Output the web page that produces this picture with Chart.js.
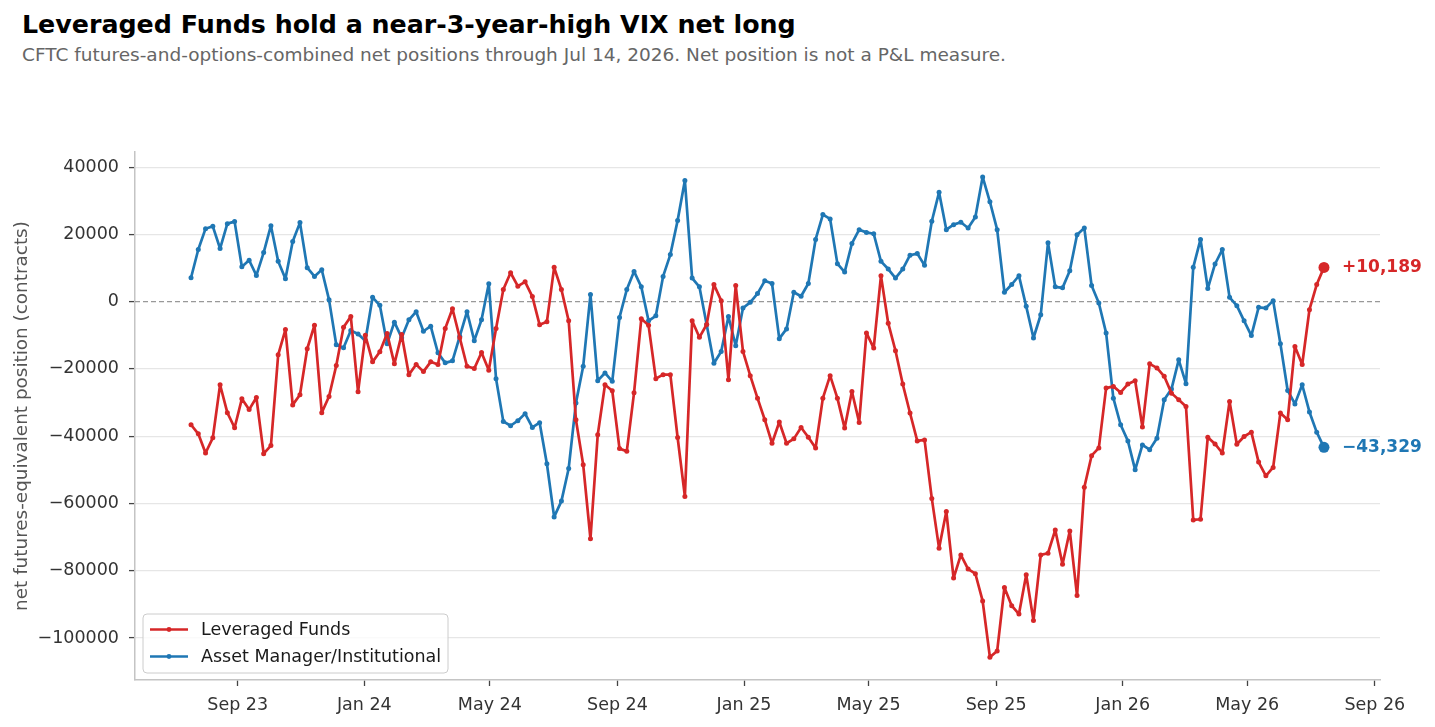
<!DOCTYPE html>
<html>
<head>
<meta charset="utf-8">
<title>VIX net positions</title>
<script src="https://cdn.jsdelivr.net/npm/chart.js@4.4.1/dist/chart.umd.min.js"></script>
<style>
  html, body { margin: 0; padding: 0; background: #fff; }
  body { width: 1435px; height: 727px; position: relative; overflow: hidden; font-family: 'DejaVu Sans', sans-serif; }
  #title { position: absolute; left: 22px; top: 12px; margin: 0; font-size: 25.3px; line-height: 1; font-weight: bold; color: #000; white-space: nowrap; }
  #subtitle { position: absolute; left: 22px; top: 46px; margin: 0; font-size: 18.5px; line-height: 1; color: #666; white-space: nowrap; }
  #wrap { position: absolute; left: 0; top: 0; width: 1435px; height: 727px; }
</style>
</head>
<body>
<h1 id="title">Leveraged Funds hold a near-3-year-high VIX net long</h1>
<p id="subtitle">CFTC futures-and-options-combined net positions through Jul 14, 2026. Net position is not a P&amp;L measure.</p>
<div id="wrap"><canvas id="chart"></canvas></div>
<script>
/* weekly CFTC reports, first one Jul 18 2023, last Jul 14 2026 */
const firstReport = '2023-07-18';

const leveragedFunds = [
  -36600, -39300, -45000, -40500, -24700, -33000, -37500, -28900, -32100, -28500,
  -45200, -42800, -15800, -8300, -30700, -27700, -14000, -7000, -33000, -28200,
  -19000, -7600, -4400, -26800, -10000, -17900, -14900, -9500, -18500, -9800,
  -21700, -18700, -20800, -17900, -18700, -8000, -2100, -10700, -19200, -19900,
  -15100, -20400, -8000, 3600, 8600, 4600, 5900, 1500, -6900, -6000,
  10200, 3600, -5700, -35100, -48500, -70500, -39600, -24700, -26500, -43700,
  -44500, -27100, -5100, -7000, -22900, -21700, -21700, -40400, -57900, -5700,
  -10600, -6800, 5100, 300, -23200, 4800, -14800, -22000, -28700, -35100,
  -42100, -35800, -42100, -40800, -37400, -40300, -43500, -28700, -22000, -28700,
  -37600, -26700, -35900, -9300, -13800, 7700, -6400, -14600, -24500, -33100,
  -41400, -41100, -58500, -73300, -62400, -82200, -75300, -79500, -80900, -89000,
  -105700, -103900, -85000, -90400, -92900, -81200, -94800, -75300, -74800, -67900,
  -78100, -68200, -87400, -55200, -45800, -43500, -25700, -25200, -27000, -24500,
  -23500, -37300, -18500, -19700, -22200, -27200, -29200, -31200, -64900, -64700,
  -40300, -42300, -45000, -29700, -42400, -40100, -38800, -47700, -51800, -49300,
  -33100, -35100, -13300, -18700, -2400, 5100, 10189
];

const assetManagers = [
  7100, 15500, 21700, 22400, 15800, 23200, 23800, 10400, 12300, 7800,
  14600, 22600, 12000, 6800, 17900, 23500, 10100, 7500, 9500, 600,
  -12800, -13700, -8600, -9600, -11600, 1300, -1100, -12500, -6100, -10700,
  -5400, -3000, -8800, -7300, -15200, -18200, -17600, -10300, -3000, -11600,
  -5400, 5300, -22900, -35600, -36900, -35400, -33300, -37400, -36000, -48200,
  -64000, -59300, -49600, -30100, -19200, 2100, -23500, -21200, -23700, -4700,
  3600, 9000, 4400, -5700, -4200, 7500, 14000, 24100, 36000, 7000,
  4400, -6800, -18300, -14800, -4400, -13100, -1900, -200, 2400, 6200,
  5400, -11000, -8100, 2800, 1600, 5400, 18500, 25900, 24600, 11300,
  8800, 17300, 21400, 20600, 20200, 12000, 9700, 7000, 9700, 13800,
  14300, 10800, 23900, 32500, 21400, 22900, 23600, 21900, 25200, 37100,
  29700, 21400, 2800, 5100, 7700, -1400, -10800, -3900, 17500, 4400,
  4100, 9200, 19900, 21900, 4800, -400, -9300, -28700, -36600, -41400,
  -50000, -42600, -44000, -40600, -29200, -26000, -17300, -24400, 10200, 18500,
  3900, 11200, 15500, 1300, -1200, -5700, -10100, -1700, -1900, 300,
  -12500, -26400, -30400, -24700, -32800, -38800, -43329
];

const tickDates = ['2023-09-01', '2024-01-01', '2024-05-01', '2024-09-01', '2025-01-01',
  '2025-05-01', '2025-09-01', '2026-01-01', '2026-05-01', '2026-09-01'];
const tickLabels = ['Sep 23', 'Jan 24', 'May 24', 'Sep 24', 'Jan 25',
  'May 25', 'Sep 25', 'Jan 26', 'May 26', 'Sep 26'];
const yTicks = [40000, 20000, 0, -20000, -40000, -60000, -80000, -100000];

const RED = '#d62728';
const BLUE = '#1f77b4';
const DAY = 86400000;
const t0 = Date.parse(firstReport);
const dayOf = d => (Date.parse(d) - t0) / DAY;
const fmt = v => (v < 0 ? '\u2212' : '') + Math.abs(v);

const toPoints = arr => arr.map((v, i) => ({ x: i * 7, y: v }));

Chart.defaults.font.family = "'DejaVu Sans', sans-serif";
Chart.defaults.font.size = 17.5;
Chart.defaults.color = '#333';

// dashed zero line + end-of-line value labels + matplotlib-style legend box
const extras = {
  id: 'extras',
  beforeDatasetsDraw(chart) {
    const { ctx, chartArea, scales } = chart;
    const y0 = scales.y.getPixelForValue(0);
    ctx.save();
    ctx.strokeStyle = '#999';
    ctx.lineWidth = 1.3;
    ctx.setLineDash([5, 3]);
    ctx.beginPath();
    ctx.moveTo(chartArea.left, y0);
    ctx.lineTo(chartArea.right, y0);
    ctx.stroke();
    ctx.restore();
  },
  afterDatasetsDraw(chart) {
    const { ctx, chartArea } = chart;
    ctx.save();
    ctx.font = "bold 17px 'DejaVu Sans', sans-serif";
    ctx.textBaseline = 'middle';
    ctx.textAlign = 'left';
    chart.data.datasets.forEach((ds, i) => {
      const pts = chart.getDatasetMeta(i).data;
      const last = pts[pts.length - 1];
      const v = ds.data[ds.data.length - 1].y;
      const txt = (v > 0 ? '+' : '\u2212') + Math.abs(v).toLocaleString('en-US');
      ctx.fillStyle = ds.borderColor;
      ctx.fillText(txt, last.x + 18, last.y);
    });

    // legend
    const bx = chartArea.left + 8, bw = 305, bh = 59;
    const by = chartArea.bottom - 7 - bh;
    ctx.beginPath();
    ctx.roundRect(bx, by, bw, bh, 4);
    ctx.fillStyle = 'rgba(255,255,255,0.8)';
    ctx.fill();
    ctx.strokeStyle = '#cccccc';
    ctx.lineWidth = 1;
    ctx.stroke();
    ctx.font = "17.5px 'DejaVu Sans', sans-serif";
    chart.data.datasets.forEach((ds, i) => {
      const ry = by + 15.5 + i * 27;
      ctx.strokeStyle = ds.borderColor;
      ctx.lineWidth = 2.6;
      ctx.beginPath();
      ctx.moveTo(bx + 7, ry);
      ctx.lineTo(bx + 45, ry);
      ctx.stroke();
      ctx.fillStyle = ds.borderColor;
      ctx.beginPath();
      ctx.arc(bx + 26, ry, 2.4, 0, Math.PI * 2);
      ctx.fill();
      ctx.fillStyle = '#1a1a1a';
      ctx.fillText(ds.label, bx + 58, ry + 1);
    });
    ctx.restore();
  }
};

const lastBig = n => ctx => (ctx.dataIndex === n - 1 ? 5.5 : 2.5);

new Chart(document.getElementById('chart'), {
  type: 'line',
  data: {
    datasets: [
      {
        label: 'Leveraged Funds',
        data: toPoints(leveragedFunds),
        borderColor: RED,
        backgroundColor: RED,
        borderWidth: 2.7,
        borderJoinStyle: 'round',
        pointRadius: lastBig(leveragedFunds.length),
        pointBorderWidth: 0,
        tension: 0
      },
      {
        label: 'Asset Manager/Institutional',
        data: toPoints(assetManagers),
        borderColor: BLUE,
        backgroundColor: BLUE,
        borderWidth: 2.7,
        borderJoinStyle: 'round',
        pointRadius: lastBig(assetManagers.length),
        pointBorderWidth: 0,
        tension: 0
      }
    ]
  },
  options: {
    responsive: true,
    maintainAspectRatio: false,
    animation: false,
    layout: { padding: { top: 152, right: 55, left: 0, bottom: 0 } },
    plugins: {
      legend: { display: false },
      tooltip: { enabled: false }
    },
    scales: {
      x: {
        type: 'linear',
        min: -54,
        max: 1146,
        afterBuildTicks: s => { s.ticks = tickDates.map(d => ({ value: dayOf(d) })); },
        afterFit: s => { s.height = 47; },
        ticks: {
          autoSkip: false,
          maxRotation: 0,
          padding: 9,
          color: '#333',
          callback: (v, i) => tickLabels[i]
        },
        grid: { drawOnChartArea: false, drawTicks: true, tickLength: 6, tickColor: '#444', tickWidth: 1.3 },
        border: { color: '#c4c4c4', width: 1.5 }
      },
      y: {
        min: -112500,
        max: 44500,
        afterBuildTicks: s => { s.ticks = yTicks.map(v => ({ value: v })); },
        afterFit: s => { s.width = 135; },
        ticks: {
          padding: 10,
          color: '#333',
          callback: v => fmt(v)
        },
        grid: {
          color: c => (c.tick && c.tick.value === 0 ? 'rgba(0,0,0,0)' : '#e6e6e6'),
          lineWidth: 1.2,
          tickLength: 6,
          tickColor: '#444',
          tickWidth: 1.3
        },
        border: { color: '#c4c4c4', width: 1.5 },
        title: {
          display: true,
          text: 'net futures-equivalent position (contracts)',
          color: '#555',
          padding: { top: 11, bottom: 0 },
          font: { size: 18.4 }
        }
      }
    }
  },
  plugins: [extras]
});
</script>
</body>
</html>
